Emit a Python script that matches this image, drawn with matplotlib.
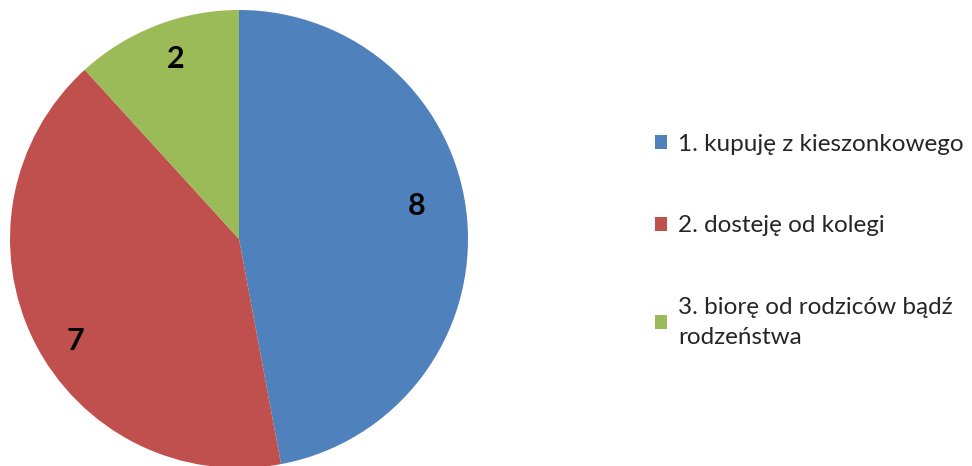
import matplotlib
matplotlib.use("Agg")
import matplotlib.pyplot as plt
from matplotlib.patches import Patch

plt.rcParams["font.family"] = ["Lato", "DejaVu Sans"]

# data
categories = ["1. kupuję z kieszonkowego",
              "2. dosteję od kolegi",
              "3. biorę od rodziców bądź\nrodzeństwa"]
values = [8, 7, 2]
colors = ["#4F81BD", "#C0504D", "#9BBB59"]

W, H = 972, 466
fig = plt.figure(figsize=(W / 100, H / 100), dpi=100)

# pie axes: center ~ (239, 239) px from top-left, radius ~229 px
cx, cy, r = 239, 239, 229
ax = fig.add_axes([(cx - r) / W, (H - cy - r) / H, 2 * r / W, 2 * r / H])

wedges, texts, autotexts = ax.pie(
    values, colors=colors, startangle=90, counterclock=False,
    autopct=lambda p: f"{round(p * sum(values) / 100):d}",
    pctdistance=0.82, radius=1.0,
    wedgeprops=dict(linewidth=0),
    textprops=dict(fontsize=22, fontweight="bold", color="black"))

# small nudges of the value labels (excel "best fit" placement)
nudges = [(-0.04, 0.07), (0.02, -0.08), (0.02, 0.02)]
for t, (dx, dy) in zip(autotexts, nudges):
    x, y = t.get_position()
    t.set_position((x + dx, y + dy))

ax.set_xlim(-1, 1)
ax.set_ylim(-1, 1)
ax.set_aspect("equal")

handles = [Patch(facecolor=c, edgecolor="none") for c in colors]
leg = fig.legend(handles, categories, loc="upper left",
                 bbox_to_anchor=(645 / W, 1 - 124 / H),
                 frameon=False, fontsize=17.5,
                 handlelength=0.5, handleheight=0.5, handletextpad=0.45,
                 labelspacing=2.5, borderaxespad=0)
for t in leg.get_texts():
    t.set_color("#262626")
    t.set_linespacing(1.5)

fig.savefig("out.png", dpi=100)
